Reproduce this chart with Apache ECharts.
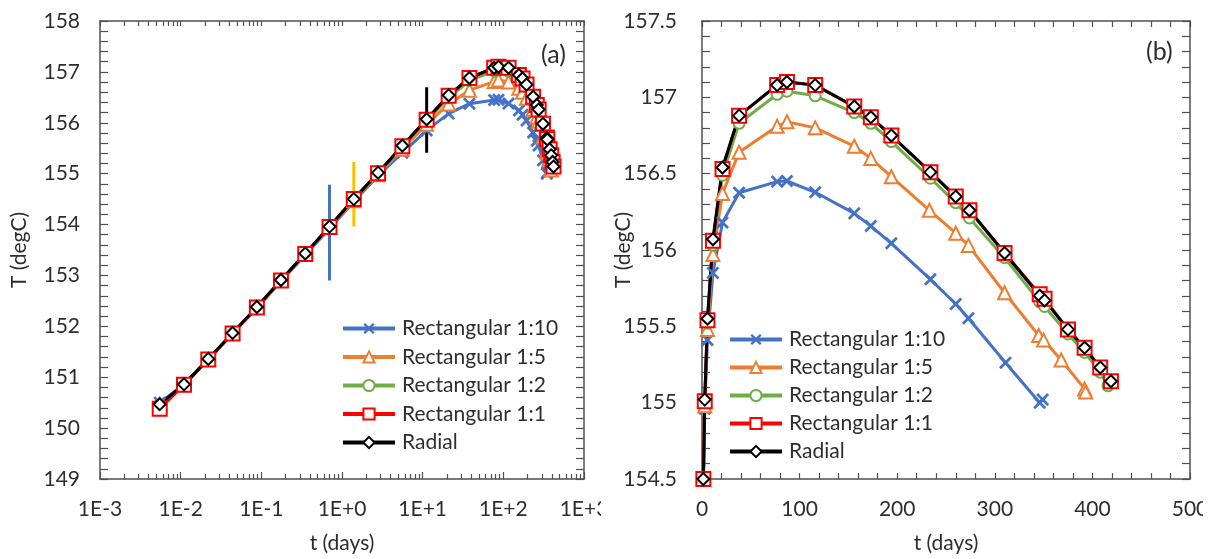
<!DOCTYPE html>
<html>
<head>
<meta charset="utf-8">
<script src="https://cdn.jsdelivr.net/npm/echarts@6/dist/echarts.min.js"></script>
<style>html,body{margin:0;padding:0;background:#fff}#c{width:1216px;height:559px}</style>
</head>
<body>
<div id="c"></div>
<script>
// ---------------- data ----------------
const seriesNames = ['Rectangular 1:10', 'Rectangular 1:5', 'Rectangular 1:2', 'Rectangular 1:1', 'Radial'];

const tRect110 = [0.0055, 0.011, 0.022, 0.044, 0.088, 0.175, 0.35, 0.7, 1.4, 2.8, 5.6, 11.2, 21, 38, 77, 87, 116, 156, 173, 194, 234, 260, 273, 311, 346, 349];
const TRect110 = [150.50, 150.86, 151.35, 151.86, 152.36, 152.88, 153.40, 153.92, 154.45, 154.96, 155.41, 155.85, 156.18, 156.375, 156.448, 156.452, 156.378, 156.24, 156.157, 156.044, 155.808, 155.646, 155.553, 155.262, 155.00, 155.02];

const tRect15 = [0.0055, 0.011, 0.022, 0.044, 0.088, 0.175, 0.35, 0.7, 1.4, 2.8, 5.6, 11.2, 21, 38, 77, 87, 116, 156, 173, 194, 233, 260, 273, 310, 345, 350, 368, 392, 393];
const TRect15 = [150.47, 150.85, 151.35, 151.86, 152.37, 152.90, 153.41, 153.94, 154.47, 154.98, 155.48, 155.97, 156.37, 156.64, 156.81, 156.84, 156.80, 156.68, 156.60, 156.48, 156.26, 156.11, 156.03, 155.72, 155.44, 155.41, 155.28, 155.09, 155.07];

const tRect12 = [0.0055, 0.011, 0.022, 0.044, 0.088, 0.175, 0.35, 0.7, 1.4, 2.8, 5.6, 11.2, 21, 38, 77, 87, 116, 156, 173, 194, 234, 260, 274, 310, 346, 351, 375, 392, 408, 416];
const TRect12 = [150.46, 150.85, 151.35, 151.86, 152.37, 152.90, 153.42, 153.95, 154.49, 155.00, 155.52, 156.03, 156.49, 156.83, 157.02, 157.04, 157.01, 156.90, 156.83, 156.71, 156.47, 156.31, 156.21, 155.95, 155.66, 155.63, 155.45, 155.33, 155.20, 155.11];

const tRect11 = [0.0055, 0.011, 0.022, 0.044, 0.088, 0.175, 0.35, 0.7, 1.4, 2.8, 5.6, 11.2, 21, 38, 77, 87, 116, 156, 173, 194, 234, 260, 274, 310, 346, 351, 375, 392, 408, 419];
const TRect11 = [150.38, 150.85, 151.35, 151.86, 152.37, 152.90, 153.42, 153.95, 154.50, 155.01, 155.54, 156.06, 156.53, 156.88, 157.08, 157.10, 157.08, 156.94, 156.87, 156.75, 156.51, 156.35, 156.26, 155.98, 155.71, 155.68, 155.48, 155.36, 155.23, 155.14];

const tRadial = [0.0055, 0.011, 0.022, 0.044, 0.088, 0.175, 0.35, 0.7, 1.4, 2.8, 5.6, 11.2, 21, 38, 77, 87, 116, 156, 173, 194, 234, 260, 274, 310, 346, 351, 375, 392, 408, 419];
const TRadial = [150.47, 150.86, 151.36, 151.87, 152.38, 152.91, 153.43, 153.96, 154.50, 155.02, 155.55, 156.07, 156.54, 156.88, 157.08, 157.10, 157.08, 156.94, 156.87, 156.75, 156.51, 156.35, 156.26, 155.98, 155.70, 155.67, 155.48, 155.36, 155.23, 155.14];

// vertical marker bars in panel (a)
const barT = [0.7, 1.4, 11.2];
const barLow = [152.9, 153.96, 155.41];
const barHigh = [154.78, 155.23, 156.70];

// axis ticks
const logDecades = [-3, -2, -1, 0, 1, 2, 3];
const yTicksA = [149, 150, 151, 152, 153, 154, 155, 156, 157, 158];
const yTicksB = [154.5, 155, 155.5, 156, 156.5, 157, 157.5];
const xTicksB = [0, 100, 200, 300, 400, 500];

// ---------------- styles ----------------
const FONT = 'Lato';
const TXT = '#2e2e2e';
const AX = '#505050';
const colors = ['#4472C4', '#ED7D31', '#70AD47', '#FF0000', '#000000'];
const barColors = ['#4472C4', '#FFC000', '#000000'];
const crossPath = 'path://M0,1.5L1.5,0L5,3.5L8.5,0L10,1.5L6.5,5L10,8.5L8.5,10L5,6.5L1.5,10L0,8.5L3.5,5Z';
const symbols = [crossPath, 'emptyTriangle', 'emptyCircle', 'emptyRect', 'emptyDiamond'];
const symSizes = [13, 13, 11, 14, 12];
const symBorders = [0, 2, 2, 2.5, 2];
const tArr = [tRect110, tRect15, tRect12, tRect11, tRadial];
const vArr = [TRect110, TRect15, TRect12, TRect11, TRadial];

// log minor tick positions (in log10 space)
const logMinor = [];
for (let d = -3; d < 3; d++) for (let k = 2; k <= 9; k++) logMinor.push(Math.log10(k) + d);
const logAll = logDecades.concat(logMinor);

const grids = [
  {left: 100, top: 21, width: 484, height: 458},
  {left: 702, top: 21, width: 488, height: 458}
];

const lineAx = {show: true, onZero: false, lineStyle: {color: AX, width: 1.5}};
const tickSt = {color: AX, width: 1.2};
const lblSt = {color: TXT, fontFamily: FONT, fontSize: 21};
const nameSt = {color: TXT, fontFamily: FONT, fontSize: 21};

const xAxis = [
  {type: 'log', gridIndex: 0, min: 0.001, max: 1000, logBase: 10, show: false},
  {type: 'value', gridIndex: 0, position: 'bottom', min: -3, max: 3, interval: 1,
   axisLine: lineAx, splitLine: {show: false},
   axisTick: {show: true, inside: true, length: 7, lineStyle: tickSt},
   axisLabel: Object.assign({margin: 20, formatter: v => '1E' + (v >= 0 ? '+' : '') + v, showMinLabel: true, showMaxLabel: true}, lblSt),
   name: 't (days)', nameLocation: 'middle', nameGap: 54, nameMoveOverlap: false, nameTextStyle: nameSt},
  {type: 'value', gridIndex: 0, position: 'bottom', min: -3, max: 3,
   axisLine: {show: false, onZero: false}, splitLine: {show: false}, axisLabel: {show: false},
   axisTick: {show: true, inside: true, length: 5, lineStyle: tickSt, customValues: logMinor}},
  {type: 'value', gridIndex: 0, position: 'top', min: -3, max: 3,
   axisLine: lineAx, splitLine: {show: false}, axisLabel: {show: false},
   axisTick: {show: true, inside: true, length: 5, lineStyle: tickSt, customValues: logAll}},
  {type: 'value', gridIndex: 1, position: 'bottom', min: xTicksB[0], max: xTicksB[xTicksB.length - 1], interval: 100,
   axisLine: lineAx, splitLine: {show: false},
   axisTick: {show: true, inside: true, length: 6, lineStyle: tickSt},
   minorTick: {show: true, splitNumber: 5, length: 6, lineStyle: tickSt},
   axisLabel: Object.assign({margin: 20}, lblSt),
   name: 't (days)', nameLocation: 'middle', nameGap: 54, nameMoveOverlap: false, nameTextStyle: nameSt},
  {type: 'value', gridIndex: 1, position: 'top', min: xTicksB[0], max: xTicksB[xTicksB.length - 1], interval: 100,
   axisLine: lineAx, splitLine: {show: false}, axisLabel: {show: false},
   axisTick: {show: true, inside: true, length: 6, lineStyle: tickSt},
   minorTick: {show: true, splitNumber: 5, length: 6, lineStyle: tickSt}}
];

const yAxis = [
  {type: 'value', gridIndex: 0, position: 'left', min: yTicksA[0], max: yTicksA[yTicksA.length - 1], interval: 1,
   axisLine: lineAx, splitLine: {show: false},
   axisTick: {show: true, inside: true, length: 8, lineStyle: tickSt},
   minorTick: {show: true, splitNumber: 5, length: 8, lineStyle: tickSt},
   axisLabel: Object.assign({margin: 20}, lblSt),
   name: 'T (degC)', nameLocation: 'middle', nameGap: 70, nameMoveOverlap: false, nameRotate: 90, nameTextStyle: nameSt},
  {type: 'value', gridIndex: 0, position: 'right', min: yTicksA[0], max: yTicksA[yTicksA.length - 1], interval: 1,
   axisLine: lineAx, splitLine: {show: false}, axisLabel: {show: false},
   axisTick: {show: true, inside: true, length: 8, lineStyle: tickSt},
   minorTick: {show: true, splitNumber: 5, length: 8, lineStyle: tickSt}},
  {type: 'value', gridIndex: 1, position: 'left', min: yTicksB[0], max: yTicksB[yTicksB.length - 1], interval: 0.5,
   axisLine: lineAx, splitLine: {show: false},
   axisTick: {show: true, inside: true, length: 8, lineStyle: tickSt},
   minorTick: {show: true, splitNumber: 5, length: 8, lineStyle: tickSt},
   axisLabel: Object.assign({margin: 25}, lblSt),
   name: 'T (degC)', nameLocation: 'middle', nameGap: 68, nameMoveOverlap: false, nameRotate: 90, nameTextStyle: nameSt},
  {type: 'value', gridIndex: 1, position: 'right', min: yTicksB[0], max: yTicksB[yTicksB.length - 1], interval: 0.5,
   axisLine: lineAx, splitLine: {show: false}, axisLabel: {show: false},
   axisTick: {show: true, inside: true, length: 8, lineStyle: tickSt},
   minorTick: {show: true, splitNumber: 5, length: 8, lineStyle: tickSt}}
];

const series = [];
[0, 1].forEach(p => {
  seriesNames.forEach((nm, i) => {
    series.push({
      type: 'line', name: nm,
      xAxisIndex: p === 0 ? 0 : 4, yAxisIndex: p === 0 ? 0 : 2,
      data: tArr[i].map((t, j) => [t, vArr[i][j]]),
      symbol: symbols[i], symbolSize: symSizes[i], showAllSymbol: true,
      lineStyle: {color: colors[i], width: 3},
      itemStyle: {color: colors[i], borderColor: colors[i], borderWidth: symBorders[i]},
      emphasis: {disabled: true}, animation: false, clip: true
    });
  });
});
barT.forEach((t, i) => {
  series.push({
    type: 'line', name: 'bar' + i, xAxisIndex: 0, yAxisIndex: 0,
    data: [[t, barLow[i]], [t, barHigh[i]]], symbol: 'none',
    lineStyle: {color: barColors[i], width: 3}, animation: false, silent: true
  });
});

const legendBase = {
  orient: 'vertical', itemWidth: 52, itemHeight: 14, itemGap: 7.5,
  lineStyle: {width: 4},
  textStyle: {color: TXT, fontFamily: FONT, fontSize: 21, lineHeight: 21, padding: [0, 0, 0, 2]},
  data: seriesNames, selectedMode: false
};

const option = {
  animation: false,
  backgroundColor: '#fff',
  grid: grids,
  xAxis: xAxis, yAxis: yAxis, series: series,
  legend: [
    Object.assign({left: 336, top: 313}, legendBase),
    Object.assign({left: 723, top: 324}, legendBase, {itemGap: 7})
  ],
  graphic: [
    {type: 'text', left: 541, top: 42, style: {text: '(a)', fill: TXT, font: '25px Lato'}},
    {type: 'text', left: 1146, top: 39, style: {text: '(b)', fill: TXT, font: '25px Lato'}},
    {type: 'rect', left: 601, top: 495, shape: {width: 20, height: 35}, style: {fill: '#fff'}, z: 100},
    {type: 'rect', left: 1203, top: 495, shape: {width: 13, height: 35}, style: {fill: '#fff'}, z: 100}
  ]
};

const chart = echarts.init(document.getElementById('c'), null, {renderer: 'canvas'});
chart.setOption(option);
</script>
</body>
</html>
